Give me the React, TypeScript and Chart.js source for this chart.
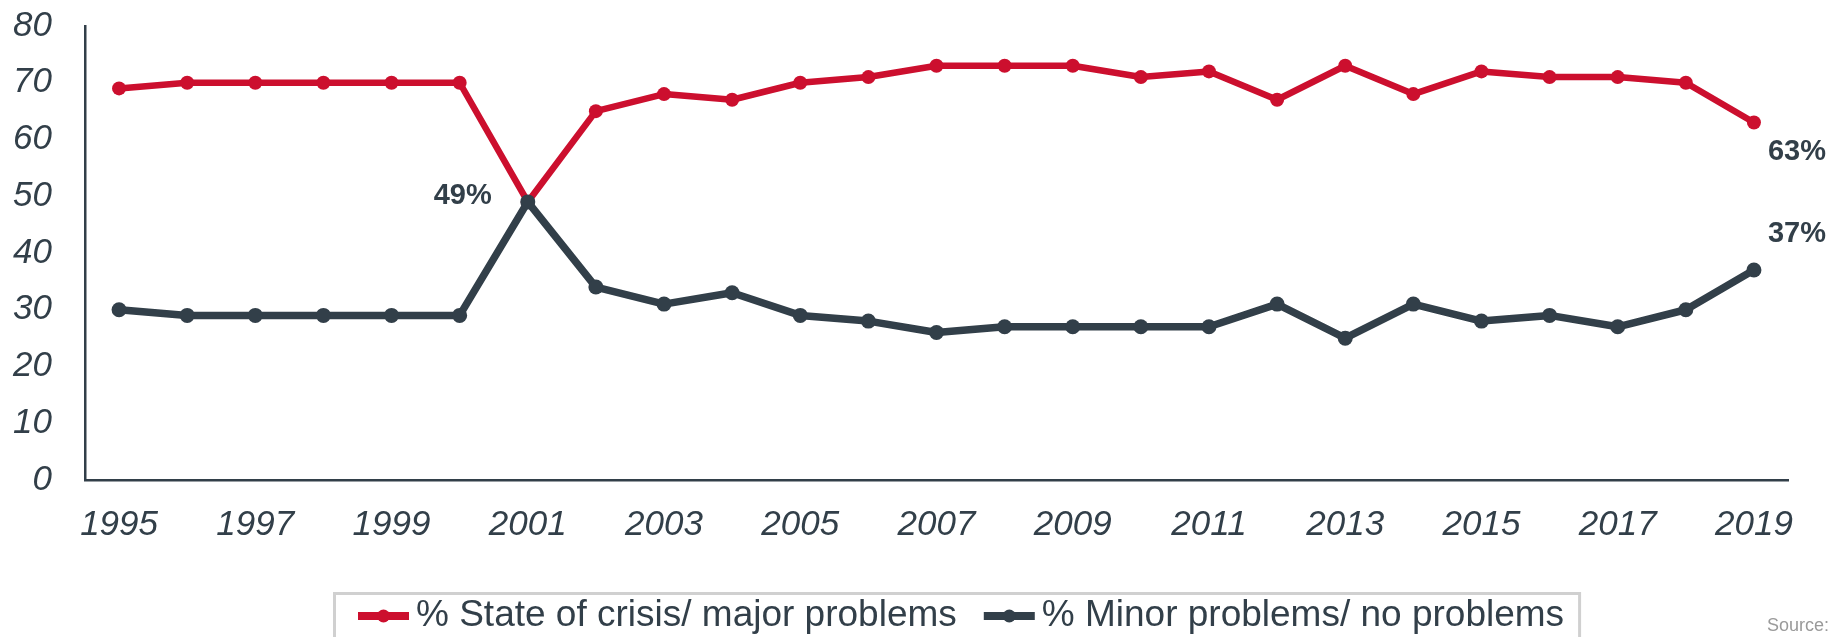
import React, { useEffect, useRef } from "react";
import { Chart, registerables } from "chart.js";

Chart.register(...registerables);

// Survey years on the horizontal axis
const years = [
  "1995", "1996", "1997", "1998", "1999", "2000", "2001", "2002", "2003",
  "2004", "2005", "2006", "2007", "2008", "2009", "2010", "2011", "2012",
  "2013", "2014", "2015", "2016", "2017", "2018", "2019",
];

// Share answering "state of crisis / major problems" (%)
const crisisMajor = [
  69, 70, 70, 70, 70, 70, 49, 65, 68, 67, 70, 71, 73, 73, 73, 71, 72, 67, 73,
  68, 72, 71, 71, 70, 63,
];

// Share answering "minor problems / no problems" (%)
const minorNone = [
  30, 29, 29, 29, 29, 29, 49, 34, 31, 33, 29, 28, 26, 27, 27, 27, 27, 31, 25,
  31, 28, 29, 27, 30, 37,
];

const seriesNames = [
  "% State of crisis/ major problems",
  "% Minor problems/ no problems",
];

const yMin = 0;
const yMax = 80;
const yStep = 10;

const sourceText = "Source:";

// Points that carry a value callout: [series index, year index, placement]
const callouts: [number, number, "left" | "below" | "above"][] = [
  [1, 6, "left"],
  [0, 24, "below"],
  [1, 24, "above"],
];

const RED = "#CC0F2E";
const SLATE = "#323F49";
const FONT = '"Liberation Sans", Arial, Helvetica, sans-serif';

const calloutPlugin = {
  id: "valueCallouts",
  afterDatasetsDraw(chart: any) {
    const ctx = chart.ctx;
    ctx.save();
    ctx.font = `bold 29px ${FONT}`;
    ctx.fillStyle = SLATE;
    ctx.textBaseline = "middle";
    for (const [ds, idx, place] of callouts) {
      const pt = chart.getDatasetMeta(ds).data[idx];
      const value = chart.data.datasets[ds].data[idx];
      const text = `${value}%`;
      if (place === "left") {
        ctx.textAlign = "right";
        ctx.fillText(text, pt.x - 36, pt.y - 6);
      } else if (place === "below") {
        ctx.textAlign = "left";
        ctx.fillText(text, pt.x + 14, pt.y + 30);
      } else {
        ctx.textAlign = "left";
        ctx.fillText(text, pt.x + 14, pt.y - 36);
      }
    }
    ctx.restore();
  },
};

const boxedLegendPlugin = {
  id: "boxedLegend",
  afterDraw(chart: any) {
    const ctx = chart.ctx;
    ctx.save();
    ctx.font = `37px ${FONT}`;
    ctx.textBaseline = "middle";
    ctx.textAlign = "left";
    const startX = 358;
    const cy = 616;
    const markLen = 51;
    const textGap = 7;
    const itemGap = 27;
    let x = startX;
    chart.data.datasets.forEach((ds: any) => {
      ctx.strokeStyle = ds.borderColor;
      ctx.lineWidth = 8;
      ctx.lineCap = "butt";
      ctx.beginPath();
      ctx.moveTo(x, cy);
      ctx.lineTo(x + markLen, cy);
      ctx.stroke();
      ctx.fillStyle = ds.borderColor;
      ctx.beginPath();
      ctx.arc(x + markLen / 2, cy, 6.5, 0, Math.PI * 2);
      ctx.fill();
      ctx.fillStyle = SLATE;
      const tx = x + markLen + textGap;
      ctx.fillText(ds.label, tx, cy);
      x = tx + ctx.measureText(ds.label).width + itemGap;
    });
    const endX = x - itemGap;
    const left = startX - 25;
    const right = endX + 17;
    ctx.strokeStyle = "#D0D0D0";
    ctx.lineWidth = 3;
    ctx.strokeRect(left + 1.5, 593.5, right - left - 3, 120);

    ctx.font = `18px ${FONT}`;
    ctx.fillStyle = "#9A9A9A";
    ctx.fillText(sourceText, 1767, 626);
    ctx.restore();
  },
};

export default function App() {
  const canvasRef = useRef<HTMLCanvasElement | null>(null);

  useEffect(() => {
    document.body.style.margin = "0";
    const canvas = canvasRef.current;
    if (!canvas) return;
    const chart = new Chart(canvas, {
      type: "line",
      data: {
        labels: years,
        datasets: [
          {
            label: seriesNames[0],
            data: crisisMajor,
            borderColor: RED,
            backgroundColor: RED,
            pointBackgroundColor: RED,
            pointBorderWidth: 0,
            pointRadius: 7,
            borderWidth: 6.5,
            borderJoinStyle: "round",
            tension: 0,
            order: 2,
          },
          {
            label: seriesNames[1],
            data: minorNone,
            borderColor: SLATE,
            backgroundColor: SLATE,
            pointBackgroundColor: SLATE,
            pointBorderWidth: 0,
            pointRadius: 7.5,
            borderWidth: 7.5,
            borderJoinStyle: "round",
            tension: 0,
            order: 1,
          },
        ],
      },
      options: {
        responsive: false,
        animation: false,
        devicePixelRatio: 1,
        layout: { padding: { left: 0, right: 41, top: 26, bottom: 87 } },
        plugins: {
          legend: { display: false },
          tooltip: { enabled: false },
        },
        scales: {
          x: {
            type: "category",
            offset: true,
            grid: { display: false, drawTicks: false },
            border: { display: true, color: SLATE, width: 2.5 },
            ticks: {
              autoSkip: false,
              maxRotation: 0,
              minRotation: 0,
              padding: 24,
              color: SLATE,
              font: { family: FONT, size: 35, style: "italic" },
              callback: (_v: any, i: number) => (i % 2 === 0 ? years[i] : ""),
            },
            afterFit: (scale: any) => {
              scale.height = 70;
              scale.paddingLeft = 0;
              scale.paddingRight = 0;
            },
          },
          y: {
            min: yMin,
            max: yMax,
            grid: { display: false, drawTicks: false },
            border: { display: true, color: SLATE, width: 2.5 },
            ticks: {
              stepSize: yStep,
              padding: 33,
              color: SLATE,
              font: { family: FONT, size: 35, style: "italic" },
            },
            afterFit: (scale: any) => {
              scale.width = 85;
              scale.paddingTop = 0;
              scale.paddingBottom = 0;
            },
          },
        },
      },
      plugins: [calloutPlugin, boxedLegendPlugin],
    });
    return () => chart.destroy();
  }, []);

  return (
    <div style={{ position: "absolute", left: 0, top: 0, width: 1829, height: 637, background: "#fff" }}>
      <canvas ref={canvasRef} width={1829} height={637} style={{ display: "block" }} />
    </div>
  );
}
